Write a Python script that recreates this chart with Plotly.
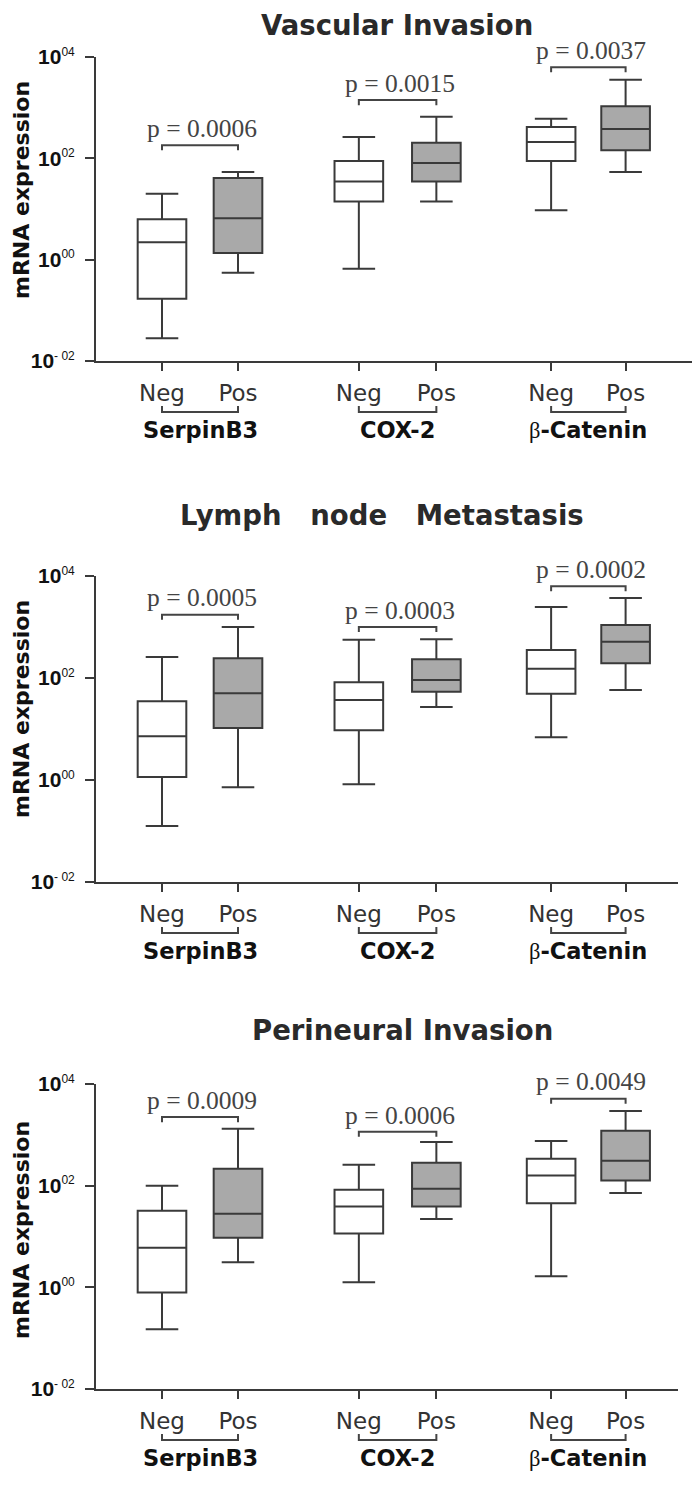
import plotly.graph_objects as go

# ---------------- data ----------------
panel_titles = ["Vascular\u00a0Invasion", "Lymph\u00a0\u00a0\u00a0node\u00a0\u00a0\u00a0Metastasis", "Perineural\u00a0Invasion"]
genes = ["SerpinB3", "COX-2", "β-Catenin"]
status = ["Neg", "Pos", "Neg", "Pos", "Neg", "Pos"]
x_pos = [0, 1, 2.59, 3.61, 5.12, 6.1]

# per panel: [SerpinB3 Neg, SerpinB3 Pos, COX-2 Neg, COX-2 Pos, bCat Neg, bCat Pos]
vascular_lower = [0.028, 0.55, 0.66, 14, 9.5, 54]
vascular_q1 = [0.17, 1.35, 14, 35, 89, 145]
vascular_median = [2.2, 6.6, 35, 81, 209, 380]
vascular_q3 = [6.3, 41, 89, 204, 417, 1072]
vascular_upper = [20, 54, 263, 660, 603, 3548]

lymph_lower = [0.126, 0.72, 0.83, 27, 6.9, 58]
lymph_q1 = [1.15, 10.5, 9.5, 54, 49, 195]
lymph_median = [7.2, 50, 37, 91, 151, 513]
lymph_q3 = [35, 245, 83, 234, 355, 1096]
lymph_upper = [257, 1000, 562, 575, 2455, 3715]

perineural_lower = [0.15, 3.1, 1.26, 22, 1.66, 72]
perineural_q1 = [0.79, 9.5, 11.5, 39, 45, 126]
perineural_median = [6.0, 28, 39, 87, 158, 309]
perineural_q3 = [32, 214, 83, 282, 339, 1202]
perineural_upper = [100, 1318, 257, 724, 759, 2951]

vascular_p = ["p = 0.0006", "p = 0.0015", "p = 0.0037"]
lymph_p = ["p = 0.0005", "p = 0.0003", "p = 0.0002"]
perineural_p = ["p = 0.0009", "p = 0.0006", "p = 0.0049"]

y_tickvals = [0.01, 1, 100, 10000]
SUP = "<sup><span style='font-size:12px'>{}</span></sup>"
y_ticktext = ["<b>10</b>" + SUP.format("- 02"), "<b>10</b>" + SUP.format("00"),
              "<b>10</b>" + SUP.format("02"), "<b>10</b>" + SUP.format("04")]

panels = [
    (vascular_lower, vascular_q1, vascular_median, vascular_q3, vascular_upper, vascular_p),
    (lymph_lower, lymph_q1, lymph_median, lymph_q3, lymph_upper, lymph_p),
    (perineural_lower, perineural_q1, perineural_median, perineural_q3, perineural_upper, perineural_p),
]

# ---------------- layout geometry (pixels, page coordinates) ----------------
W, H = 700, 1489
OFF = 8  # page body margin
geom = [
    dict(top=57, bot=361, left=96, right=699, title_y=25, title_x=397, ytitle_y=190,
         bracket=[2.26, 3.15, 3.8]),
    dict(top=576, bot=882, left=96, right=678, title_y=515, title_x=382, ytitle_y=709,
         bracket=[3.24, 3.0, 3.8]),
    dict(top=1084, bot=1389, left=96, right=678, title_y=1030, title_x=402, ytitle_y=1230,
         bracket=[3.35, 3.06, 3.71]),
]
unit_px = 76.0
x0_px = 162.0

def py(p):
    return 1 - (p - OFF) / H

def px(p):
    return (p - OFF) / W

LINE = "#3a3a3a"
fig = go.Figure()
layout = dict(width=W, height=H, autosize=False,
              margin=dict(l=0, r=0, t=0, b=0, pad=0, autoexpand=False),
              paper_bgcolor="white", plot_bgcolor="white", showlegend=False)
annotations = []
shapes = []

for i, ((lo, q1, med, q3, up, pv), g) in enumerate(zip(panels, geom)):
    n = "" if i == 0 else str(i + 1)
    xa, ya = "x" + n, "y" + n
    xmin = (g["left"] - x0_px) / unit_px
    xmax = (g["right"] - x0_px) / unit_px
    layout["xaxis" + n] = dict(
        domain=[px(g["left"]), min(1.0, px(g["right"]))], anchor=ya, range=[xmin, xmax],
        automargin=False,
        showgrid=False, zeroline=False, showline=True, linecolor=LINE, linewidth=2,
        ticks="outside", ticklen=8, tickwidth=2, tickcolor=LINE,
        tickvals=x_pos, ticktext=status, ticklabelstandoff=2,
        tickfont=dict(family="DejaVu Sans", size=23, color="#333333"))
    layout["yaxis" + n] = dict(
        domain=[py(g["bot"]), py(g["top"])], anchor=xa, type="log", range=[-2, 4],
        automargin=False,
        showgrid=False, zeroline=False, showline=True, linecolor=LINE, linewidth=2,
        ticks="outside", ticklen=9, tickwidth=2, tickcolor=LINE,
        tickvals=y_tickvals, ticktext=y_ticktext, ticklabelstandoff=6,
        tickfont=dict(family="Liberation Sans", size=21, color="#111111"))

    for j in range(6):
        fill = "white" if j % 2 == 0 else "#a9a9a9"
        fig.add_trace(go.Box(
            x=[x_pos[j]], q1=[q1[j]], median=[med[j]], q3=[q3[j]],
            lowerfence=[lo[j]], upperfence=[up[j]],
            fillcolor=fill, line=dict(color=LINE, width=2),
            width=0.64, whiskerwidth=0.67, boxpoints=False,
            xaxis=xa, yaxis=ya, hoverinfo="skip"))

    for k in range(3):
        xa0, xa1 = x_pos[2 * k], x_pos[2 * k + 1]
        b = g["bracket"][k]
        fig.add_trace(go.Scatter(
            x=[xa0, xa0, xa1, xa1],
            y=[10 ** (b - 0.1), 10 ** b, 10 ** b, 10 ** (b - 0.1)],
            mode="lines", line=dict(color="#444444", width=2),
            xaxis=xa, yaxis=ya, hoverinfo="skip"))
        annotations.append(dict(
            x=(xa0 + xa1) / 2 + 0.03, y=(b + 0.33 + 2) / 6, xref=xa, yref=ya + " domain",
            text=pv[k], showarrow=False, xanchor="center", yanchor="middle",
            font=dict(family="Liberation Serif", size=25.5, color="#444444")))
        # bracket under the axis labels
        yb = py(g["bot"] + 51)
        yt = py(g["bot"] + 45)
        shapes.append(dict(type="path", xref=xa, yref="paper",
                           path=f"M {xa0},{yt} L {xa0},{yb} L {xa1},{yb} L {xa1},{yt}",
                           line=dict(color="#444444", width=2)))
        if genes[k].startswith("β"):
            txt = "<span style='font-family:Liberation Serif;font-weight:normal'>β</span><b>-Catenin</b>"
        else:
            txt = "<b>" + genes[k] + "</b>"
        annotations.append(dict(
            x=(xa0 + xa1) / 2, y=py(g["bot"] + 69), xref=xa, yref="paper",
            text=txt, showarrow=False, xanchor="center", yanchor="middle",
            font=dict(family="DejaVu Sans", size=22.5, color="#111111")))

    annotations.append(dict(
        x=px(g["title_x"]), y=py(g["title_y"]), xref="paper", yref="paper",
        text="<b>" + panel_titles[i] + "</b>", showarrow=False,
        xanchor="center", yanchor="middle",
        font=dict(family="DejaVu Sans", size=27.5, color="#2a2a2a")))
    annotations.append(dict(
        x=px(21), y=py(g["ytitle_y"]), xref="paper", yref="paper",
        text="<b>mRNA expression</b>", showarrow=False, textangle=-90,
        xanchor="center", yanchor="middle",
        font=dict(family="DejaVu Sans", size=22, color="#111111")))

layout["annotations"] = annotations
layout["shapes"] = shapes
fig.update_layout(**layout)
fig.write_html("out.html")
